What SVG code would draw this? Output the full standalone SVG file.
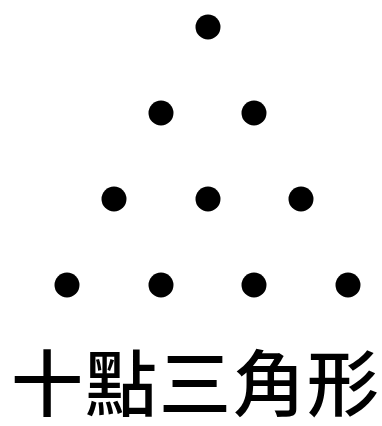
<svg xmlns="http://www.w3.org/2000/svg" width="382" height="426" viewBox="0 0 382 426">
<style>
.dot{fill:#000}
.label{font-family:"Liberation Serif","Noto Sans CJK TC","Noto Sans CJK SC",serif;font-size:72px;font-weight:500;fill:#000}
</style>
<rect width="382" height="426" fill="#fff"/>
<g id="dots">
<circle id="d1" class="dot" cx="208" cy="27" r="12.5"/>
<circle id="d2" class="dot" cx="161" cy="113" r="12.5"/>
<circle id="d3" class="dot" cx="254" cy="113" r="12.5"/>
<circle id="d4" class="dot" cx="114" cy="199" r="12.5"/>
<circle id="d5" class="dot" cx="208" cy="199" r="12.5"/>
<circle id="d6" class="dot" cx="301" cy="199" r="12.5"/>
<circle id="d7" class="dot" cx="67" cy="285" r="12.5"/>
<circle id="d8" class="dot" cx="161" cy="285" r="12.5"/>
<circle id="d9" class="dot" cx="254" cy="285" r="12.5"/>
<circle id="d10" class="dot" cx="348" cy="285" r="12.5"/>
</g>
<g id="caption">
<text class="label" x="195" y="410" text-anchor="middle" textLength="368" lengthAdjust="spacing">十點三角形</text>
</g>
</svg>
